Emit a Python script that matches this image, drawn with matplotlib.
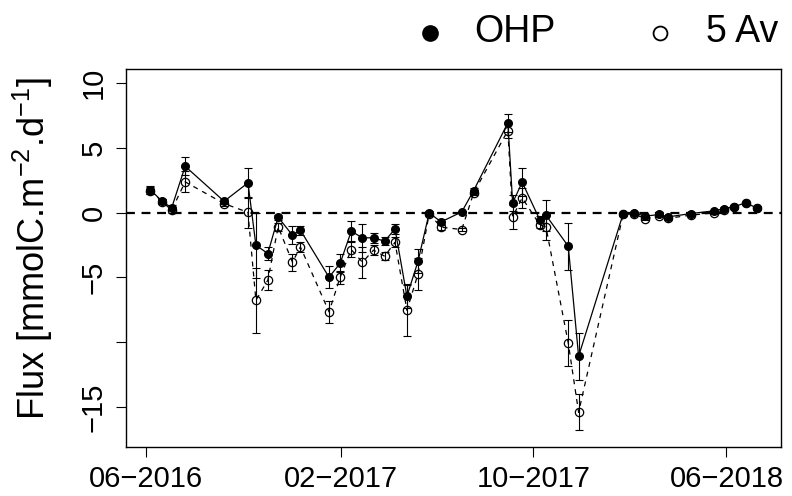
import numpy as np
import matplotlib
matplotlib.use("Agg")
import matplotlib.pyplot as plt
import matplotlib.dates as mdates
from matplotlib.lines import Line2D

plt.rcParams["font.family"] = ["Liberation Sans", "DejaVu Sans"]
plt.rcParams["mathtext.default"] = "regular"

# sampling dates and fluxes (mmolC m-2 d-1)
dates = np.array([
    "2016-06-06", "2016-06-21", "2016-07-03", "2016-07-20", "2016-09-07",
    "2016-10-07", "2016-10-17", "2016-11-01", "2016-11-14", "2016-12-02",
    "2016-12-12", "2017-01-17", "2017-01-31", "2017-02-14", "2017-02-28",
    "2017-03-14", "2017-03-28", "2017-04-10", "2017-04-25", "2017-05-09",
    "2017-05-23", "2017-06-07", "2017-07-03", "2017-07-18", "2017-08-30",
    "2017-09-05", "2017-09-17", "2017-10-09", "2017-10-17", "2017-11-14",
    "2017-11-27", "2018-01-22", "2018-02-05", "2018-02-19", "2018-03-08",
    "2018-03-20", "2018-04-17", "2018-05-16", "2018-05-29", "2018-06-11",
    "2018-06-25", "2018-07-09",
], dtype="datetime64[D]")

ohp = [1.77, 0.87, 0.36, 3.57, 0.87, 2.29, -2.52, -3.16, -0.36, -1.75,
       -1.36, -4.99, -3.91, -1.44, -1.95, -1.95, -2.21, -1.26, -6.46, -3.75,
       -0.03, -0.72, 0.05, 1.70, 6.92, 0.75, 2.34, -0.54, -0.21, -2.60,
       -11.09, -0.10, -0.03, -0.28, -0.15, -0.33, -0.08, 0.13, 0.31, 0.46,
       0.75, 0.36]
ohp_err = [0.3, 0.2, 0.2, 0.7, 0.2, 1.15, 2.5, 0.5, 0.2, 0.7,
           0.35, 0.85, 0.7, 0.77, 1.1, 0.4, 0.3, 0.4, 0.9, 0.9,
           0.15, 0.2, 0.1, 0.2, 0.7, 0.6, 1.1, 0.3, 1.2, 1.8,
           1.8, 0.1, 0.1, 0.1, 0.1, 0.1, 0.1, 0.1, 0.1, 0.1,
           0.1, 0.1]

av5 = [1.70, 0.85, 0.18, 2.37, 0.69, 0.02, -6.77, -5.22, -1.10, -3.83,
       -2.65, -7.66, -4.99, -2.86, -3.83, -2.90, -3.37, -2.29, -7.54, -4.73,
       -0.10, -1.13, -1.31, 1.52, 6.33, -0.33, 1.13, -0.93, -1.13, -10.08,
       -15.41, -0.15, -0.10, -0.49, -0.28, -0.44, -0.20, -0.03, 0.20, 0.40,
       0.70, 0.35]
av5_err = [0.3, 0.2, 0.2, 0.8, 0.2, 1.2, 2.5, 0.75, 0.3, 0.65,
           0.37, 0.86, 0.5, 0.6, 1.2, 0.4, 0.3, 0.4, 2.0, 1.25,
           0.15, 0.2, 0.15, 0.2, 0.6, 0.95, 0.8, 0.3, 0.95, 1.77,
           1.4, 0.1, 0.1, 0.1, 0.1, 0.1, 0.1, 0.1, 0.1, 0.1,
           0.1, 0.1]

tick_dates = np.array(["2016-06-01", "2017-02-01", "2017-10-01", "2018-06-01"],
                      dtype="datetime64[D]")
tick_labels = ["06\u22122016", "02\u22122017", "10\u22122017", "06\u22122018"]

x = dates.astype(object)

fig = plt.figure(figsize=(7.92, 4.96), dpi=100)
ax = fig.add_axes([0.159, 0.099, 0.827, 0.762])

ax.axhline(0, color="black", lw=1.6, ls=(0, (4, 3)), zorder=1)

ax.errorbar(x, av5, yerr=av5_err, fmt="none", ecolor="black",
            elinewidth=0.8, capsize=3, capthick=0.8, zorder=2)
ax.plot(x, av5, color="black", lw=0.9, ls=(0, (4, 4)), marker="o",
        mfc="none", mec="black", mew=0.9, ms=6, zorder=3)

ax.errorbar(x, ohp, yerr=ohp_err, fmt="none", ecolor="black",
            elinewidth=0.8, capsize=3, capthick=0.8, zorder=4)
ax.plot(x, ohp, color="black", lw=0.9, marker="o", mfc="black",
        mec="black", ms=5.5, zorder=5)

# 4% padding around the data range, as base R does
d0 = mdates.date2num(x[0])
d1 = mdates.date2num(x[-1])
pad = 0.04 * (d1 - d0)
ax.set_xlim(d0 - pad, d1 + pad)
ax.set_ylim(-17 - 0.04 * 27, 10 + 0.04 * 27)

ax.set_xticks(mdates.date2num(tick_dates.astype(object)))
ax.set_xticklabels(tick_labels)
ax.set_yticks([-15, -10, -5, 0, 5, 10])
ax.set_yticklabels(["\u221215", "", "\u22125", "0", "5", "10"],
                   rotation=90, va="center")
ax.tick_params(axis="both", direction="out", length=7, width=0.8,
               labelsize=21, pad=6)

for s in ax.spines.values():
    s.set_linewidth(1.0)

ax.set_ylabel("Flux [mmolC.m$^{-2}$.d$^{-1}$]", fontsize=26)
ax.yaxis.set_label_coords(-0.108, 0.524)

# legend drawn above the panel
fig.add_artist(Line2D([430 / 792], [1 - 33 / 496], ls="none", marker="o",
                      mfc="black", mec="black", ms=11))
fig.text(474 / 792, 1 - 32 / 496, "OHP", fontsize=27, va="center", ha="left")
fig.add_artist(Line2D([660 / 792], [1 - 33 / 496], ls="none", marker="o",
                      mfc="none", mec="black", mew=1.3, ms=10))
fig.text(706 / 792, 1 - 32 / 496, "5 Av", fontsize=27, va="center", ha="left")

fig.savefig("out.png", dpi=100)
